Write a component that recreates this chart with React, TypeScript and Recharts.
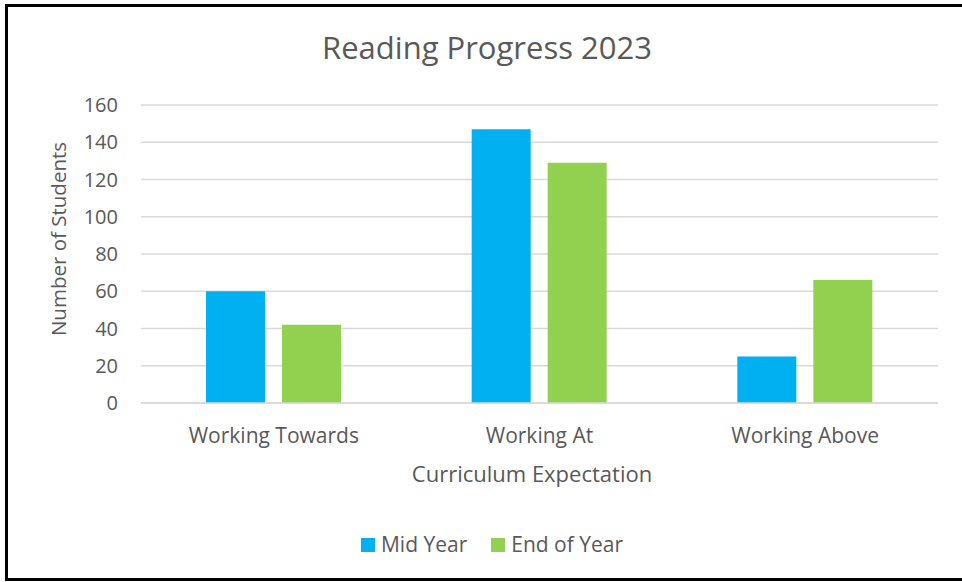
import React from 'react';
import { BarChart, Bar, XAxis, YAxis, CartesianGrid } from 'recharts';

const categories = ['Working Towards', 'Working At', 'Working Above'];
const midYear = [60, 147, 25];
const endOfYear = [42, 129, 66];
const yTicks = [0, 20, 40, 60, 80, 100, 120, 140, 160];

const series = [
  { key: 'mid', name: 'Mid Year', color: '#00B0F0', values: midYear },
  { key: 'end', name: 'End of Year', color: '#92D050', values: endOfYear },
];

const data = categories.map((c, i) => ({ category: c, mid: midYear[i], end: endOfYear[i] }));

const TEXT = '#595959';
const FONT = '"Open Sans", sans-serif';

export default function App() {
  return (
    <div style={{ position: 'absolute', left: 0, top: 0, width: 962, height: 582, background: '#fff', fontFamily: FONT, color: TEXT }}>
      <div
        style={{
          position: 'absolute', left: 5, top: 4, width: 957, height: 577, boxSizing: 'border-box',
          borderTop: '3px solid #000', borderLeft: '3px solid #000', borderBottom: '3px solid #000',
        }}
      />
      <div style={{ position: 'absolute', left: 487, top: 32, transform: 'translateX(-50%)', whiteSpace: 'nowrap', fontSize: 31, lineHeight: 1 }}>
        Reading Progress 2023
      </div>

      <div style={{ position: 'absolute', left: 0, top: 0 }}>
        <BarChart
          width={962}
          height={582}
          data={data}
          margin={{ top: 105, right: 24, bottom: 139, left: 81 }}
          barSize={59}
          barGap={17}
        >
          <CartesianGrid vertical={false} stroke="#D9D9D9" strokeWidth={1.5} />
          <XAxis
            dataKey="category"
            height={40}
            tickLine={false}
            axisLine={{ stroke: '#D9D9D9', strokeWidth: 1.5 }}
            tickSize={0}
            tickMargin={25}
            tick={{ fill: TEXT, fontSize: 21, fontFamily: FONT }}
          />
          <YAxis
            width={60}
            domain={[0, 160]}
            ticks={yTicks}
            tickLine={false}
            axisLine={false}
            tickSize={0}
            tickMargin={23}
            tick={{ fill: TEXT, fontSize: 20, fontFamily: FONT }}
          />
          {series.map((s) => (
            <Bar key={s.key} dataKey={s.key} name={s.name} fill={s.color} isAnimationActive={false} />
          ))}
        </BarChart>
      </div>

      <div
        style={{
          position: 'absolute', left: 58, top: 239, transform: 'translate(-50%, -50%) rotate(-90deg)',
          whiteSpace: 'nowrap', fontSize: 20.5, lineHeight: 1,
        }}
      >
        Number of Students
      </div>
      <div style={{ position: 'absolute', left: 532, top: 462, transform: 'translateX(-50%)', whiteSpace: 'nowrap', fontSize: 22, lineHeight: 1 }}>
        Curriculum Expectation
      </div>

      <div
        style={{
          position: 'absolute', left: 492, top: 534, transform: 'translateX(-50%)', display: 'flex',
          alignItems: 'center', gap: 24, whiteSpace: 'nowrap', fontSize: 21, lineHeight: 1,
        }}
      >
        {series.map((s) => (
          <div key={s.key} style={{ display: 'flex', alignItems: 'center', gap: 6 }}>
            <span style={{ display: 'inline-block', width: 14, height: 14, background: s.color }} />
            <span>{s.name}</span>
          </div>
        ))}
      </div>
    </div>
  );
}
